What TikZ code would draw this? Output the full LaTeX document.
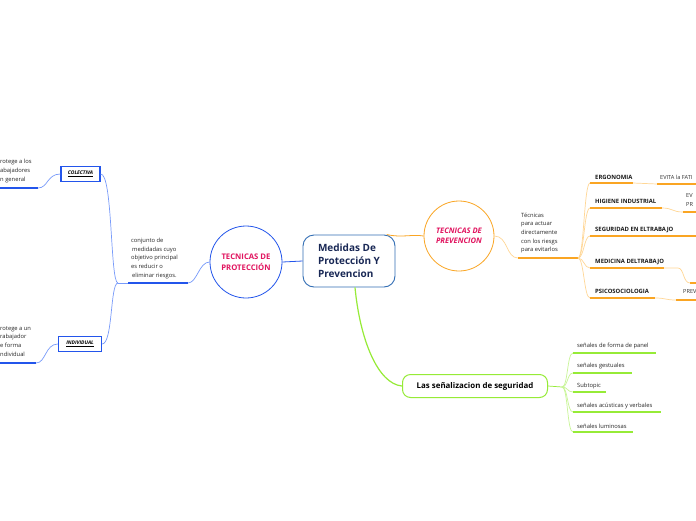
\documentclass[tikz,border=0pt]{standalone}
\usepackage{fontspec}
\setmainfont{Open Sans}
\definecolor{bl}{RGB}{35,85,235}
\definecolor{bll}{RGB}{120,155,250}
\definecolor{orn}{RGB}{250,165,35}
\definecolor{ornl}{RGB}{255,215,150}
\definecolor{grn}{RGB}{150,235,55}
\definecolor{grnl}{RGB}{200,245,150}
\definecolor{crim}{RGB}{225,20,95}
\definecolor{navy}{RGB}{25,40,85}
\definecolor{cbord}{RGB}{50,110,180}
\begin{document}
\begin{tikzpicture}[x=1pt,y=-1pt,
  small/.style={font=\fontsize{5.8}{8.7}\selectfont, inner sep=0pt, align=left, text=black!85},
  caplbl/.style={font=\fontsize{5.9}{6}\selectfont\bfseries, inner sep=0pt, anchor=west, text=black!90},
  thin/.style={line width=0.7pt},
  thick/.style={line width=1.3pt},
  boxlbl/.style={draw=bl, line width=1.1pt, inner sep=0pt, minimum height=15pt, font=\fontsize{5}{6}\selectfont\bfseries\itshape, fill=white}
]
\clip (0,0) rectangle (696,520);
\fill[white] (0,0) rectangle (696,520);

% central node
\node[draw=cbord, line width=0.9pt, rounded corners=11pt, minimum width=92pt, minimum height=52pt, inner sep=0pt, align=left, font=\fontsize{10}{13}\selectfont\bfseries, text=navy, fill=white] (c) at (349,261) {Medidas De\\Protección Y\\Prevencion};

% ---------- left (blue) ----------
\node[circle, draw=bl, line width=0.8pt, minimum size=72pt, inner sep=0pt, align=center, font=\fontsize{7.7}{11.5}\selectfont\bfseries, text=crim] (tp) at (246,262) {TECNICAS DE\\PROTECCIÓN};
\draw[bl, line width=0.8pt] (c.west) -- (tp.east);

\node[small, anchor=north west] (cj) at (131,238) {conjunto de\\[-0.2pt]\,medidadas cuyo\\objetivo principal\\es reducir o\\\,eliminar riesgos.};
\coordinate (jn) at (118,283);
\coordinate (u0) at (128,283);
\coordinate (u1) at (188,283);
\draw[bll, thin] (tp.west) .. controls (199,262) and (197,283) .. (u1);
\draw[bll, thin] (jn) -- (u0);
\draw[bl, thick] (u0) -- (u1);

\node[boxlbl, minimum width=39pt] (col) at (80.5,174) {\underline{COLECTIVA}};
\node[boxlbl, minimum width=43pt] (ind) at (80,344) {\underline{INDIVIDUAL}};
\draw[bll, thin] (jn) .. controls (110,283) and (113,173) .. (col.east);
\draw[bll, thin] (jn) .. controls (110,283) and (113,344) .. (ind.east);

\coordinate (cu) at (38,188);
\coordinate (cu0) at (0,188);
\draw[bll, thin] (col.west) .. controls (47,174) and (48,188) .. (cu);
\draw[bl, thick] (cu) -- (cu0);
\node[small, anchor=north west] (ct) at (0,159) {rotege a los\\abajadores\\n general};

\coordinate (iu) at (36,363);
\coordinate (iu0) at (0,363);
\draw[bll, thin] (ind.west) .. controls (45,344) and (46,363) .. (iu);
\draw[bl, thick] (iu) -- (iu0);
\node[small, anchor=north west] (it) at (0,326) {rotege a un\\rabajador\\e forma\\ndividual};

% ---------- right (orange) ----------
\node[circle, draw=orn, line width=0.8pt, minimum size=70pt, inner sep=0pt, align=center, font=\fontsize{7.6}{10}\selectfont\bfseries\itshape, text=crim] (pv) at (459,236) {TECNICAS DE\\PREVENCION};
\draw[orn, line width=0.8pt] (c.35) .. controls (402,238) and (412,234) .. (pv.west);

\node[small, anchor=north west] (tt) at (521,212.5) {Técnicas\\para actuar\\directamente\\con los riesgs\\para evitarlos};
\coordinate (ou0) at (518,258);
\coordinate (oj) at (578,258);
\draw[ornl, thin] (pv.east) .. controls (508,236) and (506,258) .. (ou0);
\draw[orn, thick] (ou0) -- (oj);

\foreach \nm/\yy in {e/183, h/208, s/236, m/268, p/298}{
  \coordinate (b\nm) at (590,\yy);
  \draw[ornl, thin] (oj) .. controls (584,258) and (584,\yy) .. (b\nm);
}
\node[caplbl] (ergo) at (595,177) {ERGONOMIA};
\node[caplbl] (hig) at (595,201.5) {HIGIENE INDUSTRIAL};
\node[caplbl] (seg) at (595,230) {SEGURIDAD EN ELTRABAJO};
\node[caplbl] (med) at (595,262) {MEDICINA DELTRABAJO};
\node[caplbl] (psi) at (595,291.5) {PSICOSOCIOLOGIA};

% ergonomia
\coordinate (e1) at (633,183);
\coordinate (e2) at (657,184);
\coordinate (e3) at (696,184);
\draw[orn, thick] (be) -- (e1);
\draw[ornl, thin] (e1) .. controls (645,183) and (645,184) .. (e2);
\draw[orn, thick] (e2) -- (e3);
\node[font=\fontsize{5.6}{6}\selectfont, inner sep=0pt, anchor=west, text=black!80] (ev1) at (660,177) {EVITA la FATI};

% higiene
\coordinate (h1) at (662,208);
\coordinate (h2) at (683,212);
\coordinate (h3) at (696,212);
\draw[orn, thick] (bh) -- (h1);
\draw[ornl, thin] (h1) .. controls (673,208) and (672,212) .. (h2);
\draw[orn, thick] (h2) -- (h3);
\node[font=\fontsize{5.6}{9.5}\selectfont, inner sep=0pt, anchor=north west, align=left, text=black!80] (ev2) at (686,193) {EV\\PR};

% seguridad
\coordinate (s1) at (696,236);
\draw[orn, thick] (bs) -- (s1);

% medicina
\coordinate (m1) at (664,268);
\coordinate (m2) at (690,283);
\coordinate (m3) at (696,283);
\draw[orn, thick] (bm) -- (m1);
\draw[ornl, thin] (m1) -- (678,268) .. controls (684,268) and (683,283) .. (m2);
\draw[orn, thick] (m2) -- (m3);

% psico
\coordinate (p1) at (655,298);
\coordinate (p2) at (676,300);
\coordinate (p3) at (696,300);
\draw[orn, thick] (bp) -- (p1);
\draw[ornl, thin] (p1) .. controls (666,298) and (665,300) .. (p2);
\draw[orn, thick] (p2) -- (p3);
\node[font=\fontsize{5.6}{6}\selectfont, inner sep=0pt, anchor=west, text=black!80] (pr) at (683,291.5) {PREV};

% ---------- bottom (green) ----------
\node[draw=grn, line width=1pt, rounded corners=8pt, minimum width=145pt, minimum height=23pt, inner sep=0pt, font=\fontsize{7.9}{8}\selectfont\bfseries, text=black] (sg) at (475,386) {Las señalizacion de seguridad};
\draw[grn, line width=1.2pt] ([xshift=6pt]c.south) .. controls (360,340) and (378,384) .. (sg.west);

\coordinate (gj) at (562,387);
\draw[grn, thin] (sg.east) -- (gj);
\foreach \nm/\yy/\xe in {a/353/656, b/373/632, c/392/606, d/412/661, f/432/633}{
  \coordinate (g\nm) at (573,\yy);
  \coordinate (g\nm e) at (\xe,\yy);
  \draw[grnl, thin] (gj) .. controls (568,387) and (567,\yy) .. (g\nm);
  \draw[grn, thick] (g\nm) -- (g\nm e);
}
\node[small, anchor=west] (s1t) at (577,346) {señales de forma de panel};
\node[small, anchor=west] (s2t) at (577,366) {señales gestuales};
\node[small, anchor=west] (s3t) at (577,386) {Subtopic};
\node[small, anchor=west] (s4t) at (577,406) {señales acústicas y verbales};
\node[small, anchor=west] (s5t) at (577,426) {señales luminosas};
\end{tikzpicture}
\end{document}
